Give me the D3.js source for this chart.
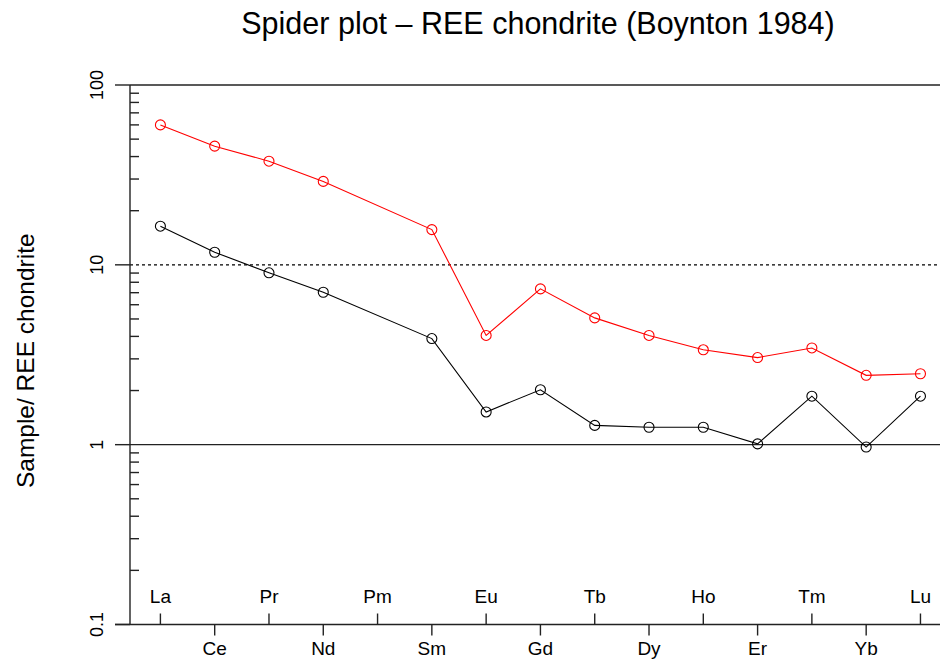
<!DOCTYPE html>
<html>
<head>
<meta charset="utf-8">
<script src="https://cdn.jsdelivr.net/npm/d3@7/dist/d3.min.js"></script>
<style>
  html, body { margin: 0; padding: 0; background: #fff; }
  svg { display: block; font-family: "Liberation Sans", Arial, sans-serif; }
</style>
</head>
<body>
<svg id="chart" width="940" height="659"></svg>
<script>
// Rare earth elements, in atomic order
const elements = ["La","Ce","Pr","Nd","Pm","Sm","Eu","Gd","Tb","Dy","Ho","Er","Tm","Yb","Lu"];

// Chondrite-normalised values (Pm not analysed)
const sampleRed   = [60, 45.7, 37.7, 29.1, null, 15.7, 4.05, 7.35, 5.07, 4.05, 3.37, 3.05, 3.45, 2.43, 2.48];
const sampleBlack = [16.4, 11.75, 9.03, 7.04, null, 3.89, 1.52, 2.02, 1.28, 1.25, 1.25, 1.01, 1.86, 0.97, 1.86];

const yTicks = [0.1, 1, 10, 100];
const yTickLabels = ["0.1", "1", "10", "100"];
const minorTicks = [2,3,4,5,6,7,8,9].flatMap(m => [0.1, 1, 10].map(d => m * d));

const svg = d3.select("#chart");
const W = 940, H = 659;
const plotLeft = 130, plotTop = 85, plotBottom = 624.5;

// x: element index 1..15 with 4% padding on both sides
const x = d3.scaleLinear().domain([0.44, 15.56]).range([plotLeft, plotLeft + 15.12 * 54.29]);
const y = d3.scaleLog().domain([0.1, 100]).range([plotBottom, plotTop]);

const axisCol = "#222";

// Reference lines at 1 and 100 (solid) and 10 (dotted)
svg.append("line").attr("x1", plotLeft).attr("x2", W).attr("y1", y(100)).attr("y2", y(100))
  .attr("stroke", axisCol).attr("stroke-width", 1.4);
svg.append("line").attr("x1", plotLeft).attr("x2", W).attr("y1", y(1)).attr("y2", y(1))
  .attr("stroke", axisCol).attr("stroke-width", 1.4);
svg.append("line").attr("x1", plotLeft).attr("x2", W).attr("y1", y(10)).attr("y2", y(10))
  .attr("stroke", "#000").attr("stroke-width", 1.4).attr("stroke-dasharray", "3,3");

// Left axis
svg.append("line").attr("x1", plotLeft).attr("x2", plotLeft).attr("y1", y(100)).attr("y2", plotBottom)
  .attr("stroke", axisCol).attr("stroke-width", 1.4);
svg.selectAll("line.major").data(yTicks).join("line").attr("class", "major")
  .attr("x1", plotLeft - 15).attr("x2", plotLeft)
  .attr("y1", d => y(d)).attr("y2", d => y(d))
  .attr("stroke", axisCol).attr("stroke-width", 1.4);
svg.selectAll("line.minor").data(minorTicks).join("line").attr("class", "minor")
  .attr("x1", plotLeft).attr("x2", plotLeft + 9)
  .attr("y1", d => y(d)).attr("y2", d => y(d))
  .attr("stroke", axisCol).attr("stroke-width", 1.4);
svg.selectAll("text.ylab").data(yTicks).join("text").attr("class", "ylab")
  .attr("transform", d => `translate(103,${y(d)}) rotate(-90)`)
  .attr("text-anchor", "middle")
  .attr("font-size", 18).attr("fill", "#000")
  .text((d, i) => yTickLabels[i]);

// Bottom axis: odd elements labelled above with inward ticks, even ones below
svg.append("line").attr("x1", plotLeft - 15).attr("x2", W).attr("y1", plotBottom).attr("y2", plotBottom)
  .attr("stroke", axisCol).attr("stroke-width", 1.4);
const xt = svg.selectAll("g.xt").data(elements).join("g").attr("class", "xt")
  .attr("transform", (d, i) => `translate(${x(i + 1)},${plotBottom})`);
xt.append("line")
  .attr("y1", 0).attr("y2", (d, i) => i % 2 === 0 ? -11 : 11)
  .attr("stroke", axisCol).attr("stroke-width", 1.4);
xt.append("text")
  .attr("y", (d, i) => i % 2 === 0 ? -21.5 : 30.5)
  .attr("text-anchor", "middle").attr("font-size", 19).attr("fill", "#000")
  .text(d => d);

// Series
const line = d3.line().x(d => x(d.i + 1)).y(d => y(d.v));
function drawSeries(values, colour) {
  const pts = values.map((v, i) => ({ i, v })).filter(d => d.v != null);
  svg.append("path").datum(pts).attr("d", line)
    .attr("fill", "none").attr("stroke", colour).attr("stroke-width", 1.1);
  svg.selectAll(null).data(pts).join("circle")
    .attr("cx", d => x(d.i + 1)).attr("cy", d => y(d.v)).attr("r", 5)
    .attr("fill", "none").attr("stroke", colour).attr("stroke-width", 1.1);
}
drawSeries(sampleBlack, "#000");
drawSeries(sampleRed, "#ff0000");

// Titles
svg.append("text").attr("x", 538).attr("y", 34).attr("text-anchor", "middle")
  .attr("font-size", 30.5).attr("fill", "#000")
  .text("Spider plot \u2013 REE chondrite (Boynton 1984)");
svg.append("text").attr("transform", `translate(34,${(plotTop + plotBottom) / 2 + 6}) rotate(-90)`)
  .attr("text-anchor", "middle").attr("font-size", 24.5).attr("fill", "#000")
  .text("Sample/ REE chondrite");
</script>
</body>
</html>
